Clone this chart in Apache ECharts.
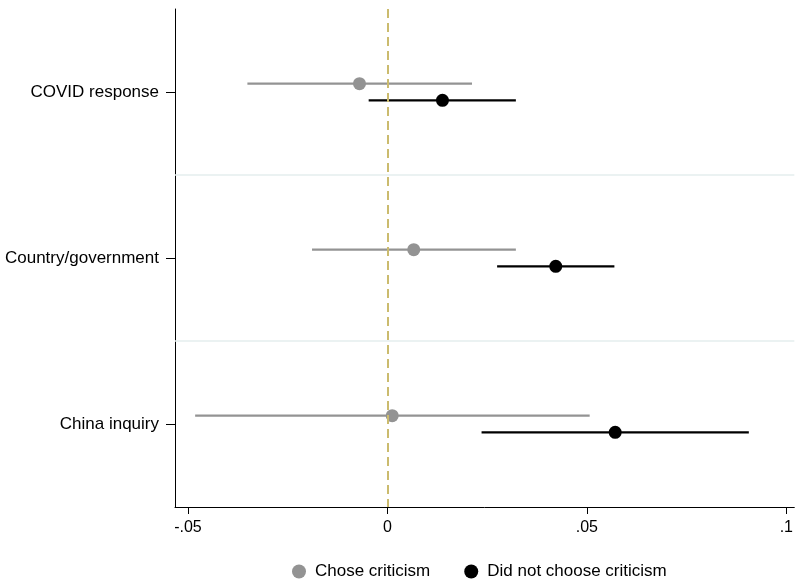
<!DOCTYPE html>
<html>
<head>
<meta charset="utf-8">
<script src="https://cdn.jsdelivr.net/npm/echarts@6/dist/echarts.min.js"></script>
<style>html,body{margin:0;padding:0;background:#fff}#c{width:796px;height:580px}</style>
</head>
<body>
<div id="c"></div>
<script>
const categories = ['COVID response', 'Country/government', 'China inquiry'];
const seriesNames = ['Chose criticism', 'Did not choose criticism'];
const choseEst = [-0.007, 0.0066, 0.0012];
const choseLo = [-0.0351, -0.0189, -0.0482];
const choseHi = [0.0212, 0.0322, 0.0507];
const notEst = [0.0138, 0.0422, 0.0571];
const notLo = [-0.0047, 0.0275, 0.0236];
const notHi = [0.0322, 0.0569, 0.0906];
const xTicks = [-0.05, 0, 0.05, 0.1];
const xTickLabels = ['-.05', '0', '.05', '.1'];

const OFF = 0.05;
const FONT = 'Liberation Sans';
const grayCol = '#939393';

function ciData(lo, hi, off) {
  return categories.map((c, i) => [lo[i], hi[i], i + 0.5 + off]);
}
function ptData(est, off) {
  return categories.map((c, i) => [est[i], i + 0.5 + off]);
}
function ciRender(color) {
  return function (params, api) {
    const a = api.coord([api.value(0), api.value(2)]);
    const b = api.coord([api.value(1), api.value(2)]);
    return { type: 'line', shape: { x1: a[0], y1: a[1], x2: b[0], y2: b[1] },
      style: { stroke: color, lineWidth: 2.2 } };
  };
}

const chart = echarts.init(document.getElementById('c'), null, { renderer: 'canvas' });
chart.setOption({
  animation: false,
  backgroundColor: '#fff',
  grid: { left: 175, right: 0, top: 9, bottom: 73 },
  legend: {
    data: seriesNames,
    left: 287, top: 558,
    itemWidth: 14, itemHeight: 14, itemGap: 34,
    icon: 'circle',
    textStyle: { fontFamily: FONT, fontSize: 17, color: '#000', padding: [0, 0, 0, 4] }
  },
  xAxis: {
    type: 'value', min: -0.05325, max: 0.102, position: 'bottom',
    axisLine: { show: true, onZero: false, lineStyle: { color: '#000', width: 1 } },
    axisTick: { show: true, length: 7, customValues: xTicks, lineStyle: { color: '#000' } },
    axisLabel: { customValues: xTicks, margin: 13, fontFamily: FONT, fontSize: 16, color: '#000',
      formatter: v => xTickLabels[xTicks.findIndex(t => Math.abs(t - v) < 1e-9)] },
    splitLine: { show: false }
  },
  yAxis: [
    { type: 'category', data: categories, inverse: true, position: 'left',
      axisLine: { show: true, onZero: false, lineStyle: { color: '#000', width: 1 } },
      axisTick: { show: true, length: 9, alignWithLabel: true, lineStyle: { color: '#000' } },
      axisLabel: { margin: 16, fontFamily: FONT, fontSize: 17, color: '#000' },
      splitLine: { show: false } },
    { type: 'value', min: 0, max: 3, inverse: true, show: false,
      axisLine: { onZero: false }, splitLine: { show: false } }
  ],
  series: [
    { name: 'ci-chose', type: 'custom', yAxisIndex: 1, renderItem: ciRender(grayCol),
      data: ciData(choseLo, choseHi, -OFF), encode: { x: [0, 1], y: 2 }, z: 2,
      markLine: { silent: true, symbol: 'none', label: { show: false },
        lineStyle: { color: '#e4eeee', width: 1.5, type: 'solid' },
        data: [{ yAxis: 1 }, { yAxis: 2 }] } },
    { name: 'ci-not', type: 'custom', yAxisIndex: 1, renderItem: ciRender('#000'),
      data: ciData(notLo, notHi, OFF), encode: { x: [0, 1], y: 2 }, z: 2,
      markLine: { silent: true, symbol: 'none', label: { show: false },
        lineStyle: { color: '#cbbb6e', width: 2, type: [9, 5] },
        data: [{ xAxis: 0 }] } },
    { name: seriesNames[0], type: 'scatter', yAxisIndex: 1, symbol: 'circle', symbolSize: 13,
      itemStyle: { color: grayCol, opacity: 1 }, data: ptData(choseEst, -OFF), z: 3 },
    { name: seriesNames[1], type: 'scatter', yAxisIndex: 1, symbol: 'circle', symbolSize: 13,
      itemStyle: { color: '#000', opacity: 1 }, data: ptData(notEst, OFF), z: 3 }
  ]
});
</script>
</body>
</html>
